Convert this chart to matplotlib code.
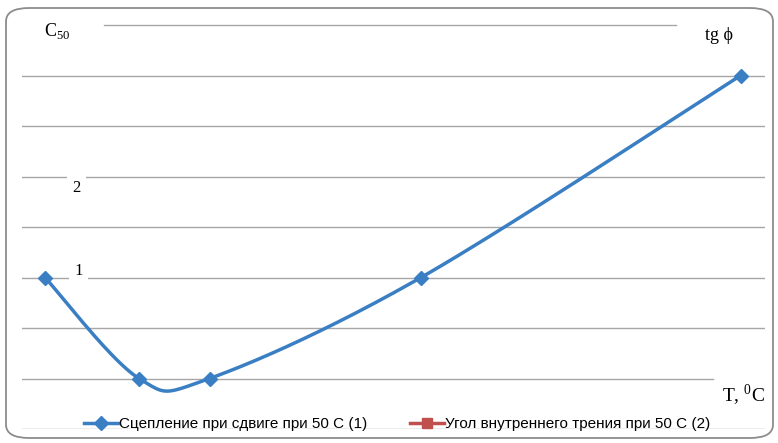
import numpy as np
import matplotlib
matplotlib.use("Agg")
import matplotlib.pyplot as plt
from matplotlib.patches import FancyBboxPatch

plt.rcParams['mathtext.fontset'] = 'custom'
plt.rcParams['mathtext.rm'] = 'Liberation Serif'

# data
temps = [5, 15, 22.5, 45, 79]
cohesion = [3, 1, 1, 3, 7]
friction = []  # second series has no visible points
grid_levels = [0, 1, 2, 3, 4, 5, 6, 7]
label1 = "Сцепление при сдвиге при 50 С (1)"
label2 = "Угол внутреннего трения при 50 С (2)"


def smooth(xs, ys, n=40):
    # excel-like smoothing: bezier with catmull-rom control points
    p = np.column_stack([xs, ys]).astype(float)
    p = np.vstack([p[0], p, p[-1]])
    out = []
    for i in range(1, len(p) - 2):
        p0, p1, p2, p3 = p[i - 1], p[i], p[i + 1], p[i + 2]
        c1 = p1 + (p2 - p0) / 6
        c2 = p2 - (p3 - p1) / 6
        t = np.linspace(0, 1, n)[:, None]
        seg = (1 - t)**3 * p1 + 3 * (1 - t)**2 * t * c1 + 3 * (1 - t) * t**2 * c2 + t**3 * p2
        out.append(seg)
    out = np.vstack(out)
    return out[:, 0], out[:, 1]


fig = plt.figure(figsize=(7.78, 4.43), dpi=100)
W, H = 778, 443

# rounded frame
frame = FancyBboxPatch((6 / W, 5 / H), 767 / W, 430 / H,
                       boxstyle="round,pad=0,rounding_size=0.03",
                       transform=fig.transFigure, fill=False,
                       edgecolor='#8c8c8c', linewidth=1.3)
fig.patches.append(frame)

ax = fig.add_axes([22 / W, (H - 429) / H, (765 - 22) / W, (429 - 25) / H])
ax.set_xlim(2.55, 81.6)
ax.set_ylim(0, 8)
ax.axis('off')

grey = '#a6a6a6'
for lv in grid_levels:
    if lv == 1:
        ax.axhline(lv, 0, 0.93, color=grey, lw=1)
    else:
        ax.axhline(lv, 0, 1, color=grey, lw=1)
# top line is only partly drawn
ax.axhline(8, 0.11, 0.88, color=grey, lw=1, clip_on=False)

sx, sy = smooth(temps, cohesion)
blue = '#3a7fc3'
ax.plot(sx, sy, color=blue, lw=2.5, solid_capstyle='round')
ax.plot(temps, cohesion, ls='none', marker='D', ms=7, color=blue)
ax.plot([], [], color=blue, lw=2.5, marker='D', ms=7, label=label1)
ax.plot(friction, friction, color='#c0504d', lw=2.5, marker='s', ms=7, label=label2)

serif = 'Liberation Serif'
yt = ax.get_yaxis_transform()
ax.text(0.03, 0.985, r'C$_{50}$', transform=ax.transAxes, family=serif, fontsize=13,
        va='center', ha='left')
ax.text(0.938, 0.975, 'tg ϕ', transform=ax.transAxes, family=serif, fontsize=13,
        va='center', ha='center')
ax.text(0.073, 4.93, '2', family=serif, fontsize=12, va='top', ha='center',
        transform=yt, bbox=dict(facecolor='white', edgecolor='none', pad=4))
ax.text(0.076, 2.98, '1', family=serif, fontsize=12, va='bottom', ha='center',
        transform=yt, bbox=dict(facecolor='white', edgecolor='none', pad=4))
ax.text(1.0, 0.92, r'T, $^{0}$C', transform=yt, family=serif,
        fontsize=14, va='top', ha='right')

leg = ax.legend(loc='lower center', bbox_to_anchor=(0.505, -0.02), ncol=2, frameon=False,
                prop={'family': 'Liberation Sans', 'size': 11}, handlelength=2.2,
                columnspacing=2.8, handletextpad=0.1, borderaxespad=0)

fig.savefig('out.png', dpi=100)
